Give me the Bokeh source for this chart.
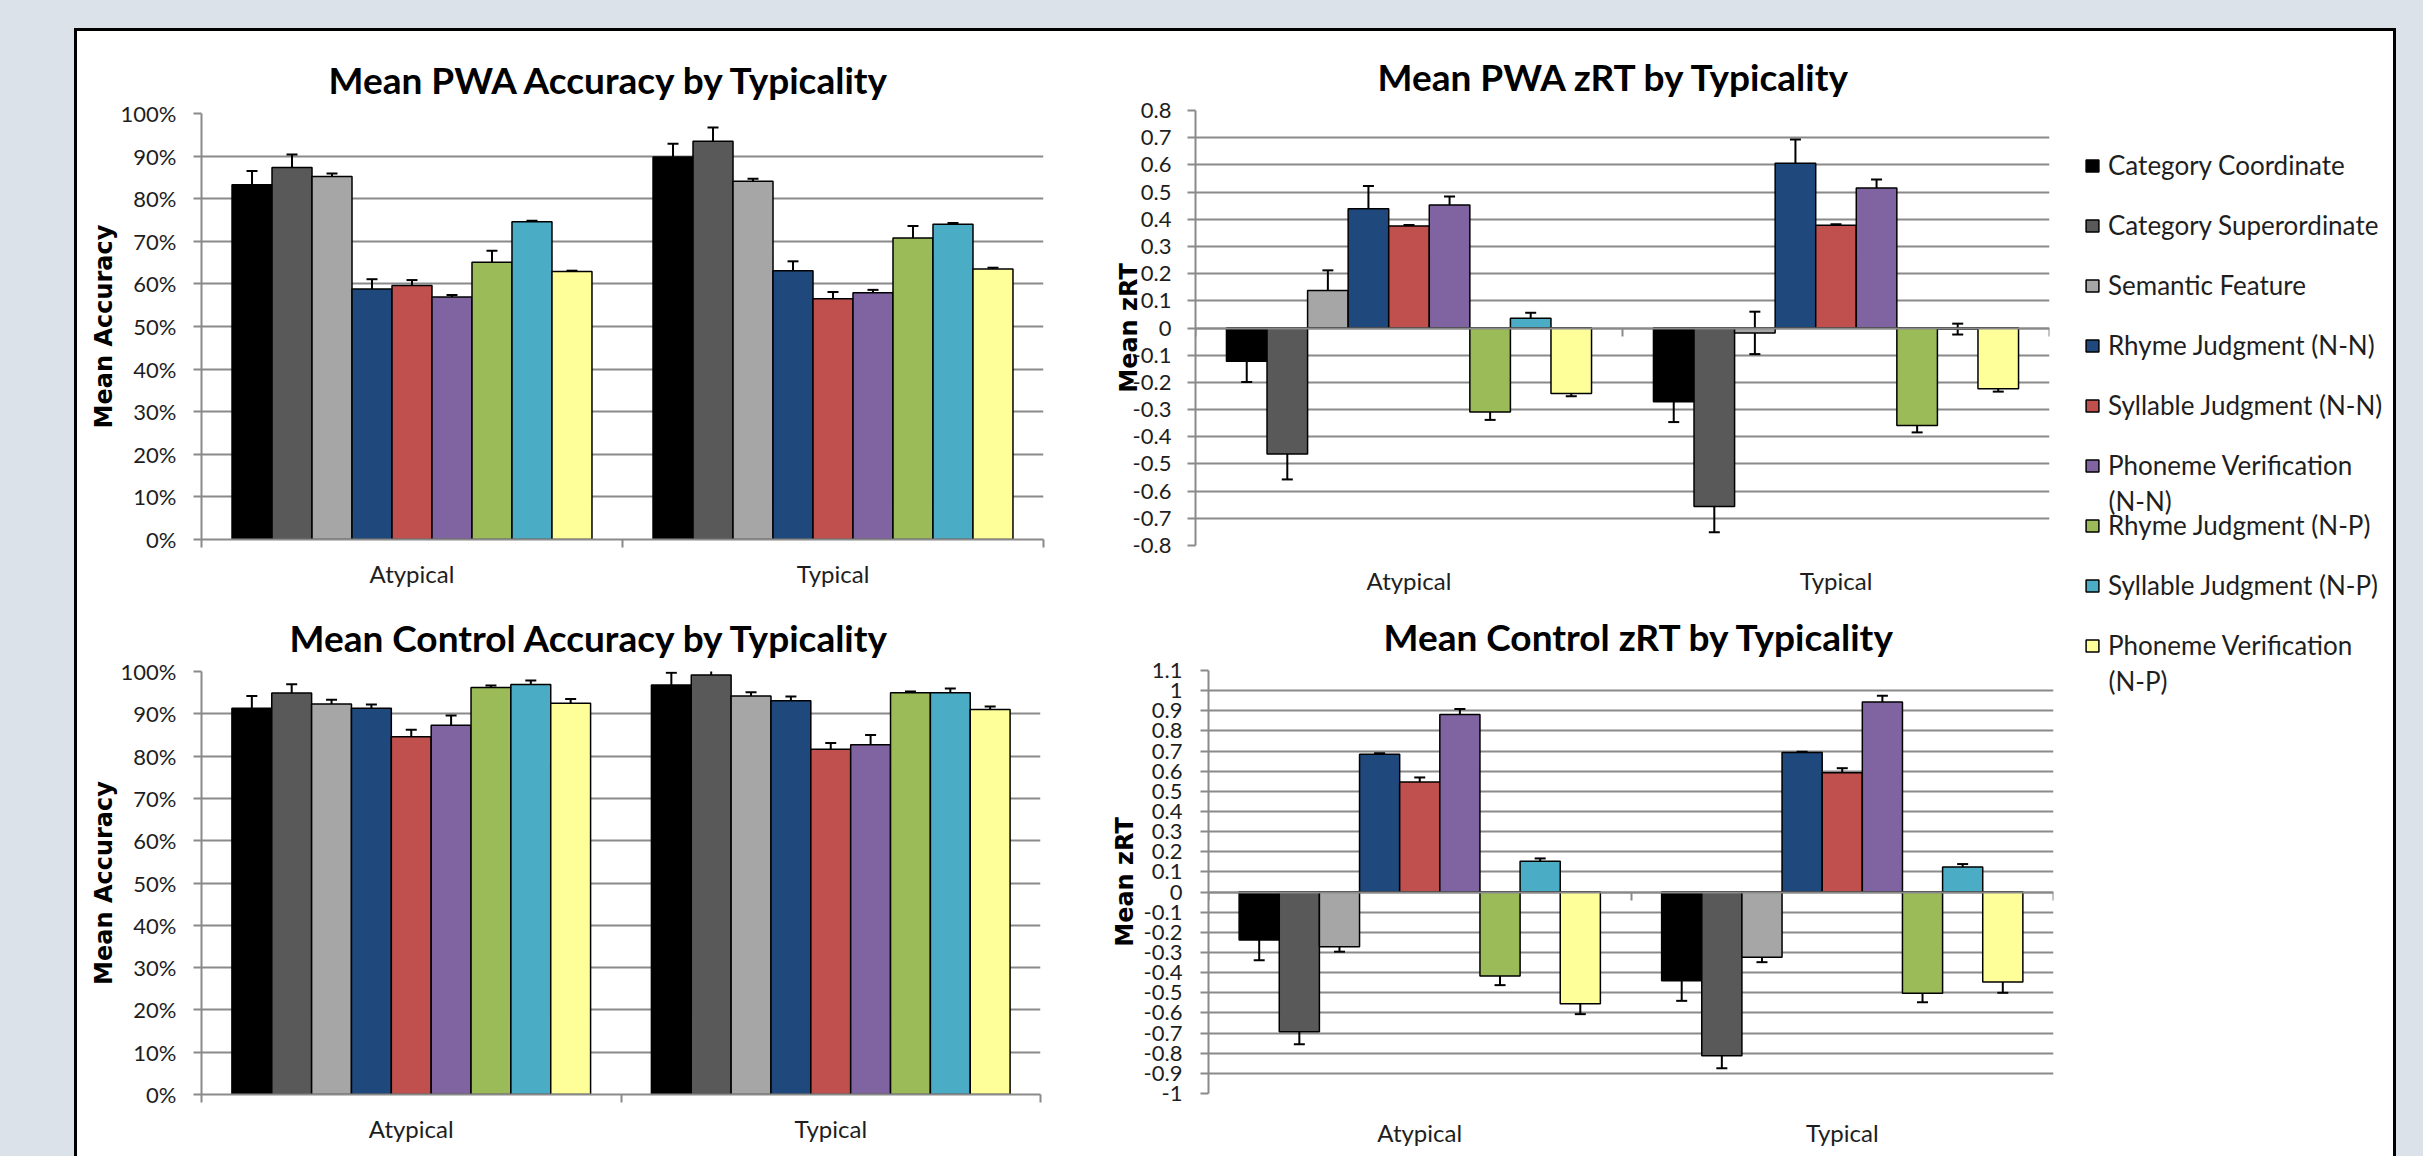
from bokeh.plotting import figure
from bokeh.models import (ColumnDataSource, Whisker, TeeHead, FixedTicker, Range1d,
                          LinearAxis, NumeralTickFormatter, PrintfTickFormatter,
                          Legend, LegendItem, Label)
from bokeh.layouts import row, column
from bokeh.embed import file_html
from bokeh.resources import INLINE

# ---------------- data ----------------
categories = ["Atypical", "Typical"]
series = ["Category Coordinate", "Category Superordinate", "Semantic Feature",
          "Rhyme Judgment (N-N)", "Syllable Judgment (N-N)", "Phoneme Verification (N-N)",
          "Rhyme Judgment (N-P)", "Syllable Judgment (N-P)", "Phoneme Verification (N-P)"]
legend_lines = [["Category Coordinate"], ["Category Superordinate"], ["Semantic Feature"],
                ["Rhyme Judgment (N-N)"], ["Syllable Judgment (N-N)"], ["Phoneme Verification", "(N-N)"],
                ["Rhyme Judgment (N-P)"], ["Syllable Judgment (N-P)"], ["Phoneme Verification", "(N-P)"]]
colors = ["#000000", "#595959", "#a6a6a6", "#1f497d", "#c0504d", "#8064a2",
          "#9bbb59", "#4bacc6", "#ffff99"]

# Mean PWA Accuracy (%)
pwa_acc_atypical = [83.3, 87.3, 85.2, 58.8, 59.6, 56.9, 65.1, 74.6, 62.9]
pwa_acc_atypical_err = [3.2, 3.1, 0.7, 2.3, 1.3, 0.5, 2.7, 0.2, 0.2]
pwa_acc_typical = [89.8, 93.5, 84.1, 63.1, 56.5, 57.9, 70.8, 74.0, 63.5]
pwa_acc_typical_err = [3.1, 3.2, 0.6, 2.2, 1.6, 0.7, 2.8, 0.3, 0.3]

# Mean Control Accuracy (%)
ctrl_acc_atypical = [91.3, 94.9, 92.3, 91.3, 84.6, 87.3, 96.2, 96.9, 92.5]
ctrl_acc_atypical_err = [2.9, 2.1, 1.0, 0.9, 1.6, 2.3, 0.5, 1.0, 1.0]
ctrl_acc_typical = [96.8, 99.2, 94.2, 93.1, 81.6, 82.7, 95.0, 95.0, 91.0]
ctrl_acc_typical_err = [2.9, 2.2, 0.9, 1.0, 1.5, 2.3, 0.3, 1.0, 0.7]

# Mean PWA zRT
pwa_zrt_atypical = [-0.122, -0.463, 0.138, 0.439, 0.375, 0.452, -0.309, 0.036, -0.241]
pwa_zrt_atypical_err = [0.077, 0.094, 0.074, 0.083, 0.004, 0.032, 0.029, 0.020, 0.010]
pwa_zrt_typical = [-0.271, -0.657, -0.018, 0.606, 0.378, 0.515, -0.359, -0.004, -0.223]
pwa_zrt_typical_err = [0.075, 0.094, 0.078, 0.087, 0.004, 0.031, 0.025, 0.020, 0.011]

# Mean Control zRT
ctrl_zrt_atypical = [-0.238, -0.693, -0.271, 0.684, 0.547, 0.882, -0.417, 0.153, -0.554]
ctrl_zrt_atypical_err = [0.100, 0.063, 0.025, 0.005, 0.022, 0.027, 0.045, 0.014, 0.052]
ctrl_zrt_typical = [-0.440, -0.812, -0.323, 0.693, 0.592, 0.944, -0.502, 0.124, -0.446]
ctrl_zrt_typical_err = [0.100, 0.063, 0.025, 0.004, 0.023, 0.031, 0.045, 0.015, 0.054]

acc_ticks = [0, 10, 20, 30, 40, 50, 60, 70, 80, 90, 100]
pwa_zrt_ticks = [-0.8, -0.7, -0.6, -0.5, -0.4, -0.3, -0.2, -0.1, 0, 0.1, 0.2, 0.3,
                 0.4, 0.5, 0.6, 0.7, 0.8]
ctrl_zrt_ticks = [-1, -0.9, -0.8, -0.7, -0.6, -0.5, -0.4, -0.3, -0.2, -0.1, 0, 0.1,
                  0.2, 0.3, 0.4, 0.5, 0.6, 0.7, 0.8, 0.9, 1, 1.1]

# ---------------- style ----------------
GRID = "#8a8a8a"
TXT = "#1e1e1e"
BAR_W = 0.095
TICK_FONT = "Lato"


def make_chart(title, vals, errs, ticks, zrt, w, h, mb, title_offset,
               ylabel, tick_standoff, label_standoff, cat_standoff):
    p = figure(width=w, height=h, x_range=Range1d(0, len(categories)),
               y_range=Range1d(min(ticks), max(ticks)),
               output_backend="svg", toolbar_location=None,
               min_border_left=mb[0], min_border_right=mb[1],
               min_border_top=mb[2], min_border_bottom=mb[3],
               title=title)
    p.title.text_font = "Lato"
    p.title.text_font_size = "37px"
    p.title.text_font_style = "bold"
    p.title.text_color = "#000000"
    p.title.align = "left"
    p.title.offset = title_offset
    p.title.standoff = 24
    p.outline_line_color = None
    p.background_fill_color = "white"
    p.border_fill_color = "white"

    xs, tops, lows, ups, cols = [], [], [], [], []
    n = len(series)
    for i in range(len(categories)):
        for k in range(n):
            xs.append(i + 0.5 + (k - (n - 1) / 2) * BAR_W)
            tops.append(vals[i][k])
            lows.append(vals[i][k] - errs[i][k])
            ups.append(vals[i][k] + errs[i][k])
            cols.append(colors[k])
    src = ColumnDataSource(dict(x=xs, top=tops, lower=lows, upper=ups, color=cols))
    p.vbar(x="x", top="top", bottom=0, width=BAR_W, fill_color="color",
           line_color="black", line_width=1.5, source=src)
    p.add_layout(Whisker(source=src, base="x", upper="upper", lower="lower",
                         line_color="black", line_width=2,
                         upper_head=TeeHead(size=11, line_width=2, line_color="black"),
                         lower_head=TeeHead(size=11, line_width=2, line_color="black")))

    # y axis
    ya = p.yaxis[0]
    ya.ticker = FixedTicker(ticks=ticks)
    ya.formatter = NumeralTickFormatter(format="0.[0]") if zrt else PrintfTickFormatter(format="%d%%")
    ya.axis_line_color = GRID
    ya.axis_line_width = 2
    ya.major_tick_line_color = GRID
    ya.major_tick_line_width = 2
    ya.major_tick_out = 8
    ya.major_tick_in = 0
    ya.minor_tick_line_color = None
    ya.major_label_text_font = TICK_FONT
    ya.major_label_text_font_size = "22px"
    ya.major_label_text_color = TXT
    ya.major_label_standoff = tick_standoff
    ya.axis_label = ylabel
    ya.axis_label_text_font = "DejaVu Sans"
    ya.axis_label_text_font_style = "bold"
    ya.axis_label_text_font_size = "24px"
    ya.axis_label_text_color = "#000000"
    ya.axis_label_standoff = label_standoff

    p.ygrid.ticker = ya.ticker
    p.ygrid.grid_line_color = GRID
    p.ygrid.grid_line_width = 2
    p.xgrid.visible = False

    # x axis (category labels at centres, boundary ticks)
    xa = p.xaxis[0]
    xa.ticker = FixedTicker(ticks=[i + 0.5 for i in range(len(categories))],
                            minor_ticks=list(range(len(categories) + 1)))
    xa.major_label_overrides = {i + 0.5: c for i, c in enumerate(categories)}
    xa.major_tick_line_color = None
    xa.major_tick_out = 0
    xa.major_tick_in = 0
    xa.major_label_text_font = TICK_FONT
    xa.major_label_text_font_size = "24px"
    xa.major_label_text_color = TXT
    xa.major_label_standoff = cat_standoff
    if zrt:
        xa.axis_line_color = None
        xa.minor_tick_line_color = None
        zero_axis = LinearAxis(fixed_location=0,
                               ticker=FixedTicker(ticks=[], minor_ticks=list(range(len(categories) + 1))),
                               axis_line_color=GRID, axis_line_width=2,
                               major_tick_line_color=None,
                               minor_tick_line_color=GRID, minor_tick_line_width=2,
                               minor_tick_out=8, minor_tick_in=0,
                               major_label_text_font_size="0px")
        p.add_layout(zero_axis, "below")
    else:
        xa.axis_line_color = GRID
        xa.axis_line_width = 2
        xa.minor_tick_line_color = GRID
        xa.minor_tick_line_width = 2
        xa.minor_tick_out = 8
        xa.minor_tick_in = 0
    return p


tl = make_chart("Mean PWA Accuracy by Typicality",
                [pwa_acc_atypical, pwa_acc_typical], [pwa_acc_atypical_err, pwa_acc_typical_err],
                acc_ticks, False, 1023, 566, (124, 57, 82, 58), 127,
                "Mean Accuracy", 17, 0, 11)
bl = make_chart("Mean Control Accuracy by Typicality",
                [ctrl_acc_atypical, ctrl_acc_typical], [ctrl_acc_atypical_err, ctrl_acc_typical_err],
                acc_ticks, False, 1023, 559, (124, 60, 74, 62), 88,
                "Mean Accuracy", 17, 0, 11)
tr = make_chart("Mean PWA zRT by Typicality",
                [pwa_zrt_atypical, pwa_zrt_typical], [pwa_zrt_atypical_err, pwa_zrt_typical_err],
                pwa_zrt_ticks, True, 965, 566, (95, 16, 79, 52), 182,
                "Mean zRT", 16, -13, 16)
br = make_chart("Mean Control zRT by Typicality",
                [ctrl_zrt_atypical, ctrl_zrt_typical], [ctrl_zrt_atypical_err, ctrl_zrt_typical_err],
                ctrl_zrt_ticks, True, 965, 559, (108, 12, 73, 63), 175,
                "Mean zRT", 18, 2, 20)

# ---------------- legend column ----------------
LEG_H = 1125
leg = figure(width=328, height=LEG_H, x_range=Range1d(0, 1), y_range=Range1d(0, 1),
             x_axis_type=None, y_axis_type=None, output_backend="svg",
             toolbar_location=None, min_border=0)
leg.outline_line_color = None
leg.xgrid.visible = False
leg.ygrid.visible = False
items = []
for s, c, lines in zip(series, colors, legend_lines):
    # hidden swatch renderer used only by the legend
    r = leg.vbar(x=[0.5], top=[0.5], width=0.1, fill_color=c, line_color="black",
                 line_width=1.5, visible=False)
    items.append(LegendItem(label=lines[0], renderers=[r]))
LEG_BOTTOM = 493
LABEL_H, SPACING = 36, 24
legend = Legend(items=items, location=(19, LEG_BOTTOM), orientation="vertical",
                label_text_font="Lato", label_text_font_size="26px", label_text_color=TXT,
                glyph_width=16, glyph_height=15, label_standoff=8, spacing=SPACING,
                label_height=LABEL_H, padding=0, margin=0, border_line_color=None,
                background_fill_alpha=0)
leg.add_layout(legend)
n_items = len(series)
first_center_from_bottom = LEG_BOTTOM + n_items * LABEL_H + (n_items - 1) * SPACING - LABEL_H / 2
for k, lines in enumerate(legend_lines):
    for j, extra in enumerate(lines[1:]):
        leg.add_layout(Label(x=43, y=first_center_from_bottom - k * (LABEL_H + SPACING) - 35 * (j + 1),
                             x_units="screen", y_units="screen", text=extra,
                             text_font="Lato", text_font_size="26px", text_color=TXT,
                             text_baseline="middle", text_align="left"))

# each chart wrapped on its own so that frames are not aligned across charts
left_col = column(row(tl), row(bl))
mid_col = column(row(tr), row(br))
panel = row(left_col, mid_col, leg,
            styles={"background-color": "white", "border-top": "3px solid #000000",
                    "border-left": "3px solid #000000", "border-right": "3px solid #000000"})
page = column(panel, styles={"background-color": "#dce2ea", "padding": "28px 27px 0px 74px"})

open("out.html", "w").write(file_html(page, INLINE))
